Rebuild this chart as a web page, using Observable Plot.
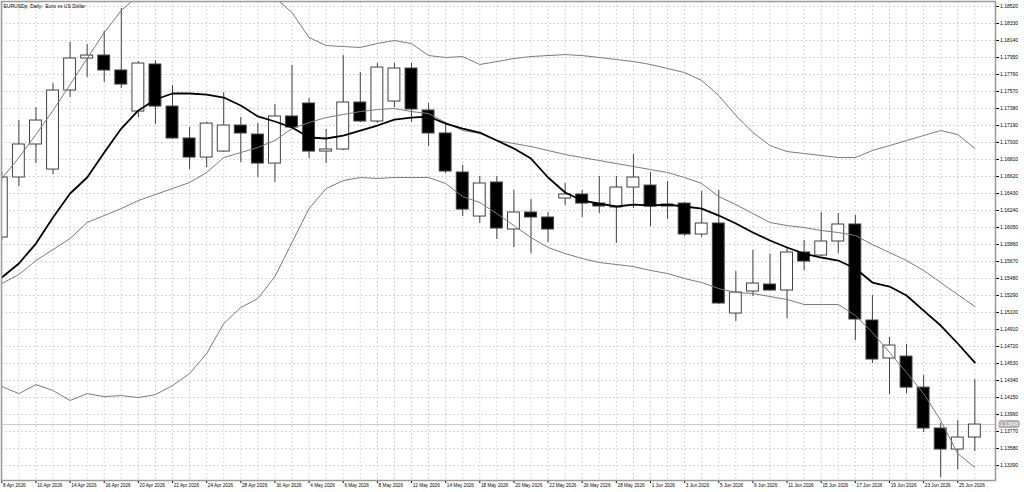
<!DOCTYPE html>
<html>
<head>
<meta charset="utf-8">
<script src="https://cdn.jsdelivr.net/npm/d3@7"></script>
<script src="https://cdn.jsdelivr.net/npm/@observablehq/plot@0.6"></script>
<style>
  html, body { margin: 0; padding: 0; background: #fff; overflow: hidden; }
</style>
</head>
<body>
<div id="chart"></div>
<script>
// EURUSDp daily bars
const dates = ["8 Apr 2026","9 Apr 2026","10 Apr 2026","13 Apr 2026","14 Apr 2026","15 Apr 2026","16 Apr 2026","17 Apr 2026",
  "20 Apr 2026","21 Apr 2026","22 Apr 2026","23 Apr 2026","24 Apr 2026","27 Apr 2026","28 Apr 2026","29 Apr 2026","30 Apr 2026",
  "1 May 2026","4 May 2026","5 May 2026","6 May 2026","7 May 2026","8 May 2026","11 May 2026","12 May 2026","13 May 2026",
  "14 May 2026","15 May 2026","18 May 2026","19 May 2026","20 May 2026","21 May 2026","22 May 2026","25 May 2026","26 May 2026",
  "27 May 2026","28 May 2026","29 May 2026","1 Jun 2026","2 Jun 2026","3 Jun 2026","4 Jun 2026","5 Jun 2026","8 Jun 2026",
  "9 Jun 2026","10 Jun 2026","11 Jun 2026","12 Jun 2026","15 Jun 2026","16 Jun 2026","17 Jun 2026","18 Jun 2026","19 Jun 2026",
  "22 Jun 2026","23 Jun 2026","24 Jun 2026","25 Jun 2026","26 Jun 2026"];

const open = [1.15938,1.16609,1.16978,1.16698,1.17581,1.17939,1.17972,1.17805,1.17346,1.17872,
  1.17402,1.17045,1.16832,1.16899,1.17190,1.17089,1.16765,1.17291,1.17436,1.16899,
  1.16922,1.17447,1.17235,1.17458,1.17827,1.17358,1.17101,1.16665,1.16173,1.16553,
  1.16028,1.16218,1.16162,1.16374,1.16419,1.16318,1.16274,1.16497,1.16519,1.16307,
  1.16318,1.15972,1.16095,1.15089,1.15335,1.15413,1.15346,1.15771,1.15737,1.15894,
  1.16084,1.15011,1.14586,1.14608,1.14261,1.13804,1.13569,1.13703];
const high = [1.16665,1.17246,1.17391,1.17659,1.18118,1.18095,1.18241,1.18498,1.17905,1.17916,
  1.17637,1.17168,1.17224,1.17559,1.17279,1.17212,1.17425,1.17861,1.17492,1.17145,
  1.17972,1.17782,1.17883,1.17883,1.17883,1.17436,1.17224,1.16743,1.16620,1.16620,
  1.16464,1.16363,1.16218,1.16542,1.16464,1.16620,1.16620,1.16866,1.16665,1.16564,
  1.16329,1.16452,1.16464,1.15558,1.15793,1.15748,1.15827,1.15905,1.16218,1.16206,
  1.16184,1.15290,1.14821,1.14743,1.14396,1.13860,1.13893,1.14351];
const low = [1.15905,1.16508,1.16765,1.16642,1.17503,1.17726,1.17671,1.17604,1.17279,1.17201,
  1.17034,1.16698,1.16721,1.16888,1.16776,1.16609,1.16553,1.17160,1.16821,1.16765,
  1.16911,1.17224,1.17212,1.17391,1.17224,1.16955,1.16654,1.16173,1.16095,1.15916,
  1.15827,1.15759,1.15882,1.16296,1.16162,1.16206,1.15871,1.16262,1.16061,1.16139,
  1.15949,1.15938,1.15190,1.15000,1.15279,1.15335,1.15033,1.15570,1.15726,1.15759,
  1.14787,1.14530,1.14183,1.14194,1.13759,1.13256,1.13345,1.13547];
const close = [1.16609,1.16978,1.17246,1.17581,1.17939,1.17972,1.17805,1.17648,1.17883,1.17402,
  1.17045,1.16832,1.17212,1.17190,1.17101,1.16765,1.17291,1.17168,1.16899,1.16922,
  1.17447,1.17235,1.17838,1.17827,1.17369,1.17101,1.16676,1.16251,1.16542,1.16039,
  1.16218,1.16162,1.16028,1.16419,1.16318,1.16285,1.16497,1.16609,1.16285,1.16285,
  1.15972,1.16095,1.15201,1.15324,1.15424,1.15346,1.15771,1.15670,1.15894,1.16084,
  1.15022,1.14575,1.14731,1.14261,1.13804,1.13569,1.13703,1.13848];

// thick moving average
const ma = [1.15491,1.15648,1.15871,1.16162,1.16430,1.16609,1.16888,1.17156,1.17358,1.17481,
  1.17548,1.17548,1.17536,1.17503,1.17414,1.17291,1.17235,1.17168,1.17056,1.17045,
  1.17078,1.17134,1.17190,1.17257,1.17279,1.17291,1.17212,1.17156,1.17112,1.17022,
  1.16933,1.16821,1.16609,1.16441,1.16352,1.16318,1.16285,1.16307,1.16296,1.16307,
  1.16285,1.16262,1.16184,1.16095,1.15994,1.15905,1.15827,1.15759,1.15715,1.15681,
  1.15592,1.15435,1.15391,1.15290,1.15122,1.14955,1.14754,1.14541];

// bollinger bands (upper runs above the window in late April)
const bbUp = [1.16598,1.16832,1.17089,1.17358,1.17648,1.17939,1.18229,1.18475,1.18643,1.18699,
  1.18743,1.18755,1.18755,1.18743,1.18699,1.18676,1.18621,1.18453,1.18173,1.18084,
  1.18073,1.18062,1.18106,1.18140,1.18106,1.17972,1.17950,1.17961,1.17872,1.17905,
  1.17939,1.17961,1.17972,1.17983,1.17972,1.17950,1.17928,1.17905,1.17872,1.17827,
  1.17782,1.17693,1.17525,1.17302,1.17112,1.16966,1.16899,1.16877,1.16855,1.16832,
  1.16832,1.16911,1.16966,1.17022,1.17078,1.17134,1.17089,1.16933];
const bbMid = [1.15424,1.15525,1.15681,1.15804,1.15927,1.16106,1.16184,1.16262,1.16352,1.16419,
  1.16486,1.16553,1.16665,1.16832,1.16888,1.16944,1.17022,1.17156,1.17224,1.17279,
  1.17313,1.17346,1.17369,1.17380,1.17346,1.17324,1.17224,1.17134,1.17101,1.17022,
  1.16989,1.16955,1.16911,1.16866,1.16832,1.16799,1.16765,1.16732,1.16698,1.16665,
  1.16609,1.16542,1.16396,1.16307,1.16206,1.16106,1.16072,1.16050,1.16017,1.15994,
  1.15961,1.15860,1.15771,1.15681,1.15570,1.15435,1.15301,1.15167];
const bbLow = [1.14273,1.14194,1.14295,1.14228,1.14117,1.14194,1.14161,1.14172,1.14150,1.14183,
  1.14284,1.14418,1.14642,1.14977,1.15156,1.15257,1.15502,1.15882,1.16262,1.16486,
  1.16575,1.16609,1.16598,1.16609,1.16609,1.16609,1.16542,1.16396,1.16329,1.16206,
  1.16072,1.15938,1.15827,1.15759,1.15704,1.15659,1.15637,1.15614,1.15570,1.15536,
  1.15480,1.15435,1.15368,1.15324,1.15313,1.15279,1.15246,1.15190,1.15190,1.15190,
  1.15067,1.14877,1.14653,1.14430,1.14194,1.13893,1.13524,1.13368];

const priceTicks = [1.13390,1.13580,1.13770,1.13960,1.14150,1.14340,1.14530,1.14720,1.14910,1.15100,
  1.15290,1.15480,1.15670,1.15860,1.16050,1.16240,1.16430,1.16620,1.16810,1.17000,
  1.17190,1.17380,1.17570,1.17760,1.17950,1.18140,1.18330,1.18520];

const title = "EURUSDp, Daily:  Euro vs US Dollar";

const idx = dates.map((d, i) => i);
const dateTicks = idx.filter(i => i % 2 === 0); // every second bar gets a label
const bars = idx.map(i => ({i, o: open[i], h: high[i], l: low[i], c: close[i]}));
const lastClose = close[close.length - 1];
const fmt = d3.format(".5f");
const grid = "#d6d6d6";

let chart = Plot.plot({
  width: 1024,
  height: 492,
  marginLeft: 1,
  marginRight: 29,
  marginTop: 1,
  marginBottom: 12,
  x: {
    domain: [-0.018, 58.21],
    ticks: dateTicks,
    tickFormat: () => "",
    tickSize: 3,
    label: null,
  },
  y: {
    domain: [1.13223, 1.18576],
    axis: "right",
    ticks: priceTicks,
    tickFormat: fmt,
    tickSize: 3,
    tickPadding: 1.5,
    label: null,
  },
  style: {
    fontFamily: "'Liberation Sans', Arial, sans-serif",
    fontSize: "5px",
    background: "#fff",
    color: "#000",
  },
  marks: [
    Plot.ruleY(priceTicks, {stroke: grid, strokeDasharray: "2,2"}),
    Plot.ruleX(idx, {stroke: grid, strokeDasharray: "2,2"}),
    Plot.ruleY([lastClose], {stroke: "#c8c8c8"}),
    // candles
    Plot.ruleX(bars, {x: "i", y1: "l", y2: "h", stroke: "#404040", clip: true}),
    Plot.rect(bars, {
      x1: d => d.i - 0.5, x2: d => d.i + 0.5, y1: "o", y2: "c",
      insetLeft: 2.6, insetRight: 2.6,
      fill: d => d.c >= d.o ? "#fff" : "#000",
      stroke: "#404040", clip: true,
    }),
    // indicators
    Plot.line(idx, {x: i => i, y: i => bbUp[i], stroke: "#7a7a7a", strokeWidth: 1, clip: true}),
    Plot.line(idx, {x: i => i, y: i => bbMid[i], stroke: "#7a7a7a", strokeWidth: 1, clip: true}),
    Plot.line(idx, {x: i => i, y: i => bbLow[i], stroke: "#7a7a7a", strokeWidth: 1, clip: true}),
    Plot.line(idx, {x: i => i, y: i => ma[i], stroke: "#000", strokeWidth: 1.8, clip: true}),
    Plot.frame({stroke: "#999", strokeWidth: 1.5}),
    Plot.text([title], {frameAnchor: "top-left", dx: 2, dy: 2.5, lineAnchor: "top", textAnchor: "start", fontSize: 5}),
    Plot.text(dateTicks, {
      x: d => d, text: d => dates[d], frameAnchor: "bottom",
      dy: 6.5, dx: 1.2, textAnchor: "start", fontSize: 4.7,
    }),
    // current price tag
    Plot.text([lastClose], {
      y: d => d, text: d => fmt(d), frameAnchor: "right", dx: 4.5, textAnchor: "start",
      fill: "#fff", stroke: "#b0b0b0", strokeWidth: 4, paintOrder: "stroke", fontSize: 5,
    }),
  ],
})

d3.select('#chart').append(() => chart)
</script>
</body>
</html>
